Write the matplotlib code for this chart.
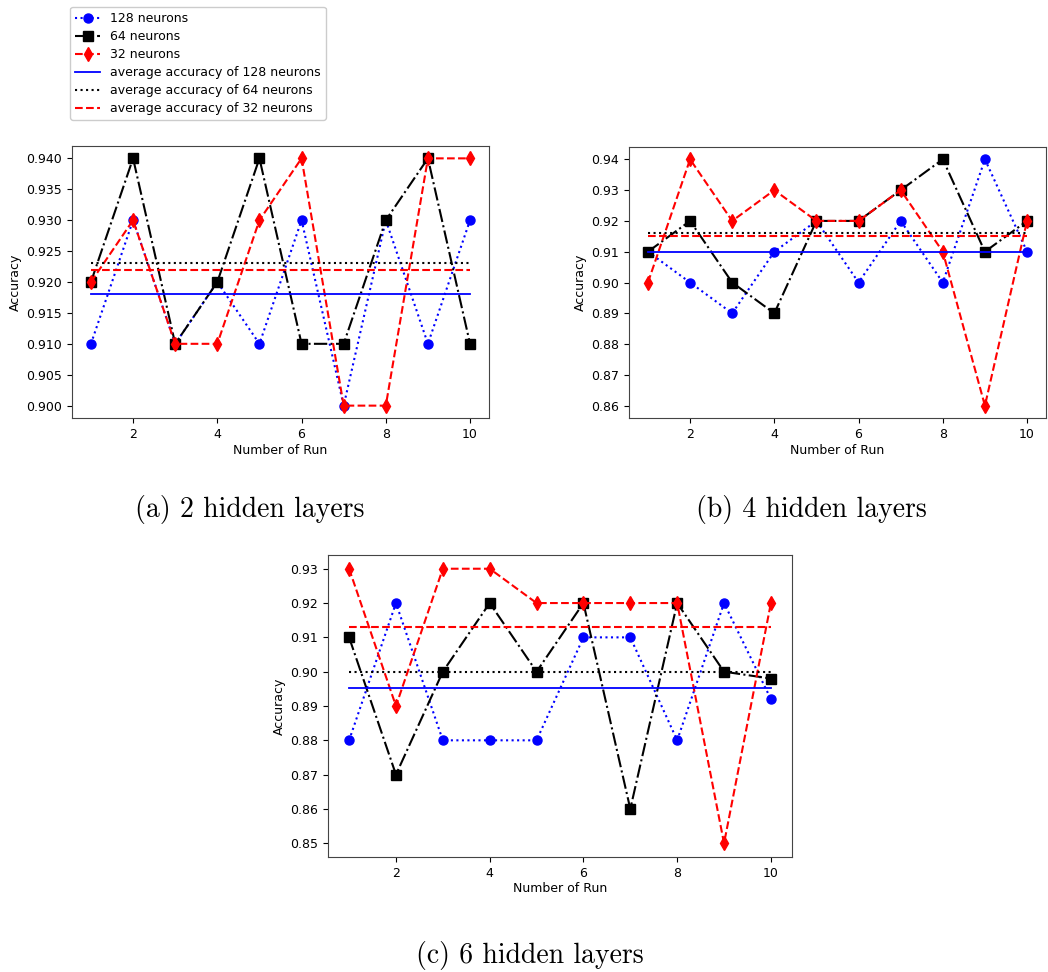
import numpy as np
import matplotlib
matplotlib.use("Agg")
import matplotlib.pyplot as plt

runs = [1, 2, 3, 4, 5, 6, 7, 8, 9, 10]

# 2 hidden layers
acc128_a = [0.91, 0.93, 0.91, 0.92, 0.91, 0.93, 0.90, 0.93, 0.91, 0.93]
acc64_a = [0.92, 0.94, 0.91, 0.92, 0.94, 0.91, 0.91, 0.93, 0.94, 0.91]
acc32_a = [0.92, 0.93, 0.91, 0.91, 0.93, 0.94, 0.90, 0.90, 0.94, 0.94]

# 4 hidden layers
acc128_b = [0.91, 0.90, 0.89, 0.91, 0.92, 0.90, 0.92, 0.90, 0.94, 0.91]
acc64_b = [0.91, 0.92, 0.90, 0.89, 0.92, 0.92, 0.93, 0.94, 0.91, 0.92]
acc32_b = [0.90, 0.94, 0.92, 0.93, 0.92, 0.92, 0.93, 0.91, 0.86, 0.92]

# 6 hidden layers
acc128_c = [0.88, 0.92, 0.88, 0.88, 0.88, 0.91, 0.91, 0.88, 0.92, 0.892]
acc64_c = [0.91, 0.87, 0.90, 0.92, 0.90, 0.92, 0.86, 0.92, 0.90, 0.898]
acc32_c = [0.93, 0.89, 0.93, 0.93, 0.92, 0.92, 0.92, 0.92, 0.85, 0.92]

captions = ["(a) 2 hidden layers", "(b) 4 hidden layers", "(c) 6 hidden layers"]

W, H = 1048, 972
fig = plt.figure(figsize=(W / 100, H / 100), dpi=100)


def box(l, t, r, b):
    return [l / W, 1 - b / H, (r - l) / W, (b - t) / H]


def panel(rect, a128, a64, a32):
    ax = fig.add_axes(rect)
    ax.plot(runs, a128, 'b:', marker='o', markersize=6.5, label='128 neurons')
    ax.plot(runs, a64, 'k-.', marker='s', markersize=6.5, label='64 neurons')
    ax.plot(runs, a32, 'r--', marker='d', markersize=7, label='32 neurons')
    ax.plot(runs, [np.mean(a128)] * len(runs), 'b-', linewidth=1.3,
            label='average accuracy of 128 neurons')
    ax.plot(runs, [np.mean(a64)] * len(runs), 'k:',
            label='average accuracy of 64 neurons')
    ax.plot(runs, [np.mean(a32)] * len(runs), 'r--',
            label='average accuracy of 32 neurons')
    ax.set_xlabel('Number of Run', fontsize=9, labelpad=2)
    ax.set_ylabel('Accuracy', fontsize=9, labelpad=3)
    ax.tick_params(labelsize=9)
    for s in ax.spines.values():
        s.set_color('#444444')
    return ax


ax_a = panel(box(72, 146, 489, 418), acc128_a, acc64_a, acc32_a)
ax_a.yaxis.set_major_formatter(matplotlib.ticker.FormatStrFormatter('%.3f'))
ax_b = panel(box(629, 147, 1046, 418), acc128_b, acc64_b, acc32_b)
ax_c = panel(box(328, 555, 792, 857), acc128_c, acc64_c, acc32_c)

h, l = ax_a.get_legend_handles_labels()
fig.legend(h, l, loc='upper left', bbox_to_anchor=(70 / W, 1 - 7 / H),
           borderaxespad=0, fontsize=9, handlelength=2, framealpha=1,
           edgecolor='#cccccc', fancybox=True, labelspacing=0.4)

fig.text(250 / W, 1 - 510 / H, captions[0], fontsize=20, family='cmr10',
         ha='center', va='center')
fig.text(811 / W, 1 - 510 / H, captions[1], fontsize=20, family='cmr10',
         ha='center', va='center')
fig.text(530 / W, 1 - 955 / H, captions[2], fontsize=20, family='cmr10',
         ha='center', va='center')

fig.savefig('out.png', dpi=100)
